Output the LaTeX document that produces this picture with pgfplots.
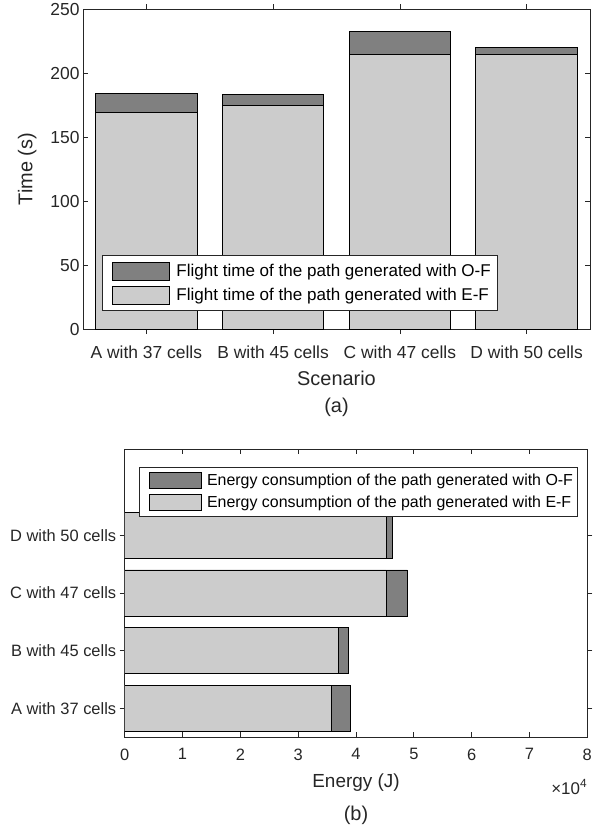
\documentclass[border=0pt]{standalone}
\usepackage{fontspec}
\setmainfont{Liberation Sans}
\usepackage{pgfplots}
\pgfplotsset{compat=1.18}
\definecolor{axgray}{rgb}{0.15,0.15,0.15}
\definecolor{darkbar}{rgb}{0.5,0.5,0.5}
\definecolor{lightbar}{rgb}{0.8,0.8,0.8}
\pgfplotsset{
  legA/.style={legend image code/.code={\path[draw=none,fill=none] (0bp,0bp) -- (67.6bp,0bp);\draw[##1,line width=0.9bp] (4bp,-9bp) rectangle (61bp,9bp);}},
  legB/.style={legend image code/.code={\path[draw=none,fill=none] (0bp,0bp) -- (63.3bp,0bp);\draw[##1,line width=0.9bp] (6bp,-8bp) rectangle (58bp,8bp);}},
  common/.style={
    scale only axis,
    tick align=inside,
    major tick length=5bp,
    tick style={axgray, line width=0.7bp},
    axis line style={axgray, line width=0.9bp},
    /pgf/number format/assume math mode=true,
    legend cell align=left,
  }
}
\begin{document}
\begin{tikzpicture}[x=1bp,y=1bp]
\useasboundingbox (0,0) rectangle (597,-831);
% ---------- panel (a) ----------
\begin{axis}[common,
  at={(83bp,-329bp)}, anchor=south west,
  width=507bp, height=320bp,
  xmin=0.5, xmax=4.5, ymin=0, ymax=250,
  ytick={0,50,100,150,200,250},
  xtick={1,2,3,4},
  xticklabels={A with 37 cells, B with 45 cells, C with 47 cells, D with 50 cells},
  ybar, bar width=0.8, bar shift=0pt,
  ticklabel style={font=\fontsize{17.5}{20}\selectfont, text=axgray},
  xticklabel style={yshift=-8bp},
  xlabel={Scenario}, ylabel={Time (s)},
  label style={font=\fontsize{20}{24}\selectfont, text=axgray},
  xlabel style={yshift=-6bp},
  ylabel style={yshift=7bp},
  legend style={at={(0.0365,0.056)}, anchor=south west, font=\fontsize{17.1}{20}\selectfont,
    draw=axgray, line width=0.7bp, inner xsep=7bp, inner ysep=3.7bp, row sep=0pt, column sep=0pt,
    nodes={inner xsep=0pt, inner ysep=0pt, minimum height=24bp}},
]
\addplot[fill=darkbar, draw=black, line width=0.9bp, legA] coordinates {(1,184.2) (2,183.2) (3,232.1) (4,219.7)};
\addplot[fill=lightbar, draw=black, line width=0.9bp, legA] coordinates {(1,168.9) (2,174.7) (3,214.5) (4,214.5)};
\legend{Flight time of the path generated with O-F, Flight time of the path generated with E-F}
\end{axis}
\node[font=\fontsize{20}{24}\selectfont, text=axgray] at (336.5,-407) {(a)};
% ---------- panel (b) ----------
\begin{axis}[common,
  at={(124.7bp,-737bp)}, anchor=south west,
  width=462.6bp, height=288bp,
  xmin=0, xmax=80000, ymin=0.5, ymax=5.5,
  xtick={0,10000,20000,30000,40000,50000,60000,70000,80000},
  scaled x ticks=base 10:-4,
  xtick scale label code/.code={},
  ytick={1,2,3,4},
  yticklabels={A with 37 cells, B with 45 cells, C with 47 cells, D with 50 cells},
  xbar, bar width=0.8, bar shift=0pt,
  ticklabel style={font=\fontsize{16.5}{20}\selectfont, text=axgray},
  xticklabel style={yshift=-8bp},
  xlabel={Energy (J)},
  label style={font=\fontsize{19}{23}\selectfont, text=axgray},
  xlabel style={at={(rel axis cs:0.5,0)}, anchor=center, yshift=-45.5bp},
  legend style={at={(0.9785,0.9385)}, anchor=north east, font=\fontsize{16}{19}\selectfont,
    draw=axgray, line width=0.7bp, inner xsep=4bp, inner ysep=2.7bp, row sep=0pt, column sep=0pt,
    nodes={inner xsep=0pt, inner ysep=0pt, minimum height=22bp}},
  after end axis/.code={\node[anchor=base east, inner sep=0pt, font=\fontsize{17}{20}\selectfont, text=axgray] at (rel axis cs:1,0) [yshift=-57bp] {×10\textsuperscript{4}};},
]
\addplot[fill=darkbar, draw=black, line width=0.9bp, legB] coordinates {(39050,1) (38700,2) (48900,3) (46300,4)};
\addplot[fill=lightbar, draw=black, line width=0.9bp, legB] coordinates {(35750,1) (36900,2) (45200,3) (45200,4)};
\legend{Energy consumption of the path generated with O-F, Energy consumption of the path generated with E-F}
\end{axis}
\node[font=\fontsize{20}{24}\selectfont, text=axgray] at (356,-815) {(b)};
\end{tikzpicture}
\end{document}
